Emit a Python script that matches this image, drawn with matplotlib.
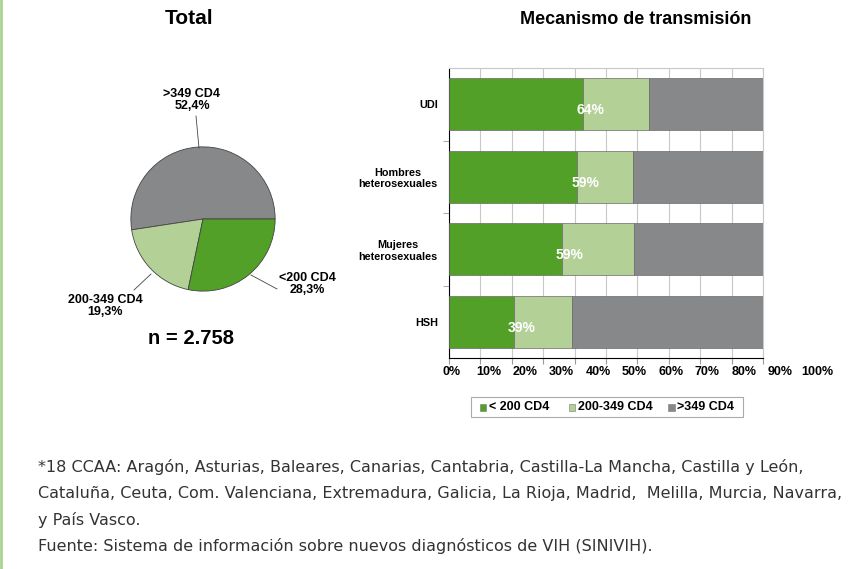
import matplotlib
matplotlib.use("Agg")
import matplotlib.pyplot as plt
import numpy as np
from matplotlib.patches import Rectangle
from matplotlib.lines import Line2D

plt.rcParams['font.family'] = ['Liberation Sans', 'DejaVu Sans']

# ---- data ----
pie_labels = ['>349 CD4', '200-349 CD4', '<200 CD4']
pie_values = [52.4, 19.3, 28.3]
pie_text = ['52,4%', '19,3%', '28,3%']

groups = ['UDI', 'Hombres\nheterosexuales', 'Mujeres\nheterosexuales', 'HSH']
lt200 = [42.7, 40.9, 36.0, 20.7]
mid = [21.0, 17.7, 22.9, 18.5]
gt349 = [36.3, 41.4, 41.1, 60.8]
late_labels = ['64%', '59%', '59%', '39%']
series_names = ['< 200 CD4', '200-349 CD4', '>349 CD4']
xticks = [0, 10, 20, 30, 40, 50, 60, 70, 80, 90, 100]

c_dark = '#52a027'
c_light = '#b3d197'
c_gray = '#878889'

W, H = 862, 569
fig = plt.figure(figsize=(W / 100, H / 100), dpi=100)

def fx(px):
    return px / W

def fy(py):
    return 1 - py / H

# left green border
fig.add_artist(Line2D([fx(1.5), fx(1.5)], [0, 1], color='#a9d48f', lw=2))

# titles
fig.text(fx(189), fy(19), 'Total', ha='center', va='center', fontsize=15, fontweight='bold')
fig.text(fx(636), fy(19), 'Mecanismo de transmisión', ha='center', va='center', fontsize=13, fontweight='bold')

# ---- pie ----
cx, cy, r = 203, 219, 72.5
axp = fig.add_axes([fx(cx - r), fy(cy + r), fx(2 * r), 2 * r / H])
wedges, _ = axp.pie(pie_values, colors=[c_gray, c_light, c_dark], startangle=0,
                    counterclock=True, radius=1,
                    wedgeprops=dict(edgecolor='#444444', linewidth=0.6))
axp.set_xlim(-1.005, 1.005)
axp.set_ylim(-1.005, 1.005)
axp.set_aspect('equal')

lab_kw = dict(ha='center', va='center', fontsize=9, fontweight='bold', linespacing=1.05)
fig.text(fx(192), fy(100), pie_labels[0] + '\n' + pie_text[0], **lab_kw)
fig.text(fx(105), fy(306), pie_labels[1] + '\n' + pie_text[1], **lab_kw)
fig.text(fx(307), fy(284), pie_labels[2] + '\n' + pie_text[2], **lab_kw)
fig.add_artist(Line2D([fx(196), fx(199)], [fy(116), fy(148)], color='#444444', lw=0.6))
fig.add_artist(Line2D([fx(251), fx(277)], [fy(275), fy(289)], color='#444444', lw=0.6))
fig.add_artist(Line2D([fx(151), fx(134)], [fy(274), fy(290)], color='#444444', lw=0.6))

fig.text(fx(191), fy(338), 'n = 2.758', ha='center', va='center', fontsize=14.5, fontweight='bold')

# ---- stacked bars ----
L, R, T, B = 449, 763, 68, 358
ax = fig.add_axes([fx(L), fy(B), fx(R - L), (B - T) / H])
y = np.arange(len(groups))
lt200a = np.array(lt200)
mida = np.array(mid)
gta = np.array(gt349)
ax.barh(y, lt200a, height=0.72, color=c_dark, edgecolor='#6a6a6a', linewidth=0.5, zorder=3)
ax.barh(y, mida, left=lt200a, height=0.72, color=c_light, edgecolor='#6a6a6a', linewidth=0.5, zorder=3)
ax.barh(y, gta, left=lt200a + mida, height=0.72, color=c_gray, edgecolor='#6a6a6a', linewidth=0.5, zorder=3)
for i, lab in enumerate(late_labels):
    ax.text(lt200a[i] + 2.5, y[i] + 0.08, lab, ha='center', va='center', color='white',
            fontsize=10, fontweight='bold', zorder=4)

ax.set_xlim(0, 100)
ax.set_ylim(3.5, -0.5)
ax.set_xticks(xticks)
ax.set_xticklabels([])
ax.grid(axis='x', color='#c8c8c8', linewidth=0.8, zorder=0)
ax.set_yticks(y)
ax.set_yticklabels(groups, fontsize=7.8, fontweight='bold', multialignment='center')
ax.tick_params(axis='y', length=0, pad=8)
ax.set_yticks([0.5, 1.5, 2.5], minor=True)
ax.tick_params(axis='y', which='minor', length=4, color='#999999')
ax.tick_params(axis='x', length=4, color='#999999')
for s in ['top', 'right']:
    ax.spines[s].set_color('#c8c8c8')
    ax.spines[s].set_linewidth(0.8)
ax.spines['left'].set_color('black')
ax.spines['bottom'].set_color('black')

# misaligned percentage labels, as in the original
for i, t in enumerate(xticks):
    px = 452 + i * 36.5
    fig.text(fx(px), fy(372), f'{t}%', ha='center', va='center', fontsize=9, fontweight='bold')

# legend
fig.add_artist(Rectangle((fx(471), fy(417)), fx(272), 20 / H, facecolor='white',
                         edgecolor='#aaaaaa', linewidth=0.8))
leg_x = [480, 569, 668]
cols = [c_dark, c_light, c_gray]
for xx, cc, nm in zip(leg_x, cols, series_names):
    fig.add_artist(Rectangle((fx(xx), fy(410.5)), fx(6.5), 6.5 / H, facecolor=cc,
                             edgecolor='#777777', linewidth=0.4))
    fig.text(fx(xx + 9), fy(407.5), nm, ha='left', va='center', fontsize=9, fontweight='bold')

# footnote
foot = ['*18 CCAA: Aragón, Asturias, Baleares, Canarias, Cantabria, Castilla-La Mancha, Castilla y León,',
        'Cataluña, Ceuta, Com. Valenciana, Extremadura, Galicia, La Rioja, Madrid,  Melilla, Murcia, Navarra,',
        'y País Vasco.',
        'Fuente: Sistema de información sobre nuevos diagnósticos de VIH (SINIVIH).']
for i, line in enumerate(foot):
    fig.text(fx(38), fy(467 + i * 26.3), line, ha='left', va='center', fontsize=11.5,
             color='#333333', family=['DejaVu Sans'])

fig.savefig('out.png', dpi=100)
